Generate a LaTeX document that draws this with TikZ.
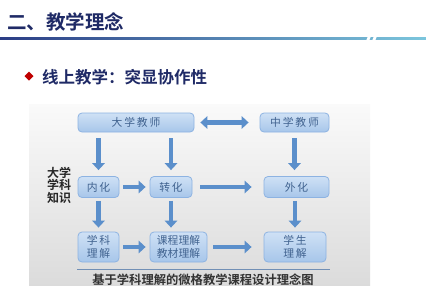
\documentclass[tikz,border=0pt]{standalone}
\usepackage{fontspec}
\newfontfamily\cjk{Noto Sans CJK SC}[BoldFont={Noto Sans CJK SC Bold}]
\usetikzlibrary{arrows.meta,shadings}
\definecolor{navy}{HTML}{1F2A66}
\definecolor{boxtop}{HTML}{CFE1F5}
\definecolor{boxbot}{HTML}{A7C6EA}
\definecolor{boxline}{HTML}{8DB3E2}
\definecolor{boxtext}{HTML}{40628F}
\definecolor{arrowc}{HTML}{5B8FCB}
\definecolor{linel}{HTML}{2B3D85}
\definecolor{liner}{HTML}{7CC6DD}
\tikzset{
  bx/.style={draw=boxline, line width=0.8pt, rounded corners=4pt, top color=boxtop, bottom color=boxbot,
    text=boxtext, font=\cjk\fontsize{10.8}{13}\selectfont, align=center, inner sep=0pt},
  arr/.style={draw=arrowc, line width=4.8pt, -{Triangle[length=7pt,width=12.5pt]}},
  darr/.style={draw=arrowc, line width=4.8pt, {Triangle[length=7pt,width=12.5pt]}-{Triangle[length=7pt,width=12.5pt]}}
}
\begin{document}
\begin{tikzpicture}[x=1pt,y=-1pt]
\useasboundingbox (0,0) rectangle (426,297);
\fill[white] (0,0) rectangle (426,297);
% title
\node[anchor=west, text=navy, font=\cjk\bfseries\fontsize{19.5}{21}\selectfont, inner sep=0pt] (title) at (7,22) {二、教学理念};
\shade[left color=linel, right color=liner] (0,37) rectangle (426,39.5);
\fill[white] (368,36) -- (371,36) -- (369,41) -- (366,41) -- cycle;
\fill[white] (374,36) -- (377,36) -- (375,41) -- (372,41) -- cycle;
% bullet
\fill[red!75!black] (29,71.5) -- (33.5,76) -- (29,80.5) -- (24.5,76) -- cycle;
\node[anchor=west, text=navy, font=\cjk\bfseries\fontsize{16.5}{18}\selectfont, inner sep=0pt] (sub) at (42,77) {线上教学：突显协作性};
% panel
\shade[top color=white!98!black, bottom color=white!86!black] (29,104) rectangle (370,285);
% boxes
\node[bx, minimum width=116pt, minimum height=19pt] (dxjs) at (136,122.5) {大\,学\,教\,师};
\node[bx, minimum width=69pt, minimum height=19pt] (zxjs) at (294.5,122.5) {中\,学\,教\,师};
\node[bx, minimum width=41pt, minimum height=21pt] (nh) at (98.5,187) {内\,化};
\node[bx, minimum width=42pt, minimum height=21pt] (zh) at (171,187) {转\,化};
\node[bx, minimum width=65pt, minimum height=21pt] (wh) at (296.5,187) {外\,化};
\node[bx, minimum width=41pt, minimum height=30pt] (xklj) at (98.5,247) {学\,科\\理\,解};
\node[bx, minimum width=57pt, minimum height=30pt] (kclj) at (178.5,247) {课程理解\\教材理解};
\node[bx, minimum width=62pt, minimum height=30pt] (xslj) at (295,247) {学\,生\\理\,解};
% left label
\node[font=\cjk\bfseries\fontsize{12}{12.5}\selectfont, text=black!85, align=center, inner sep=0pt] (lab) at (59,185) {大学\\学科\\知识};
% arrows
\draw[darr] ([xshift=6pt]dxjs.east) -- ([xshift=-11pt]zxjs.west);
\draw[arr] ([yshift=-6pt]dxjs.south -| nh) -- ([yshift=6pt]nh.north);
\draw[arr] ([yshift=-6pt]dxjs.south -| zh) -- ([yshift=6pt]zh.north);
\draw[arr] ([yshift=-6pt]zxjs.south) -- ([yshift=6pt]wh.north -| zxjs);
\draw[arr] ([xshift=4pt]nh.east) -- ([xshift=-4pt]zh.west);
\draw[arr] ([xshift=8pt]zh.east) -- ([xshift=-12pt]wh.west);
\draw[arr] ([yshift=-3pt]nh.south) -- ([yshift=4pt]xklj.north);
\draw[arr] ([yshift=-3pt]zh.south) -- ([yshift=4pt]kclj.north -| zh);
\draw[arr] ([yshift=-3pt]wh.south -| xslj) -- ([yshift=4pt]xslj.north);
\draw[arr] ([xshift=4pt]xklj.east) -- ([xshift=-4pt]kclj.west);
\draw[arr] ([xshift=6pt]kclj.east) -- ([xshift=-12pt]xslj.west);
% caption
\coordinate (cl) at (77,269);
\coordinate (cr) at (330,269);
\draw[draw=boxline!80!black, line width=1pt] (cl) -- (cr);
\node[font=\cjk\bfseries\fontsize{12.3}{14}\selectfont, text=black!80, inner sep=0pt] (cap) at (203,280) {基于学科理解的微格教学课程设计理念图};
\end{tikzpicture}
\end{document}
